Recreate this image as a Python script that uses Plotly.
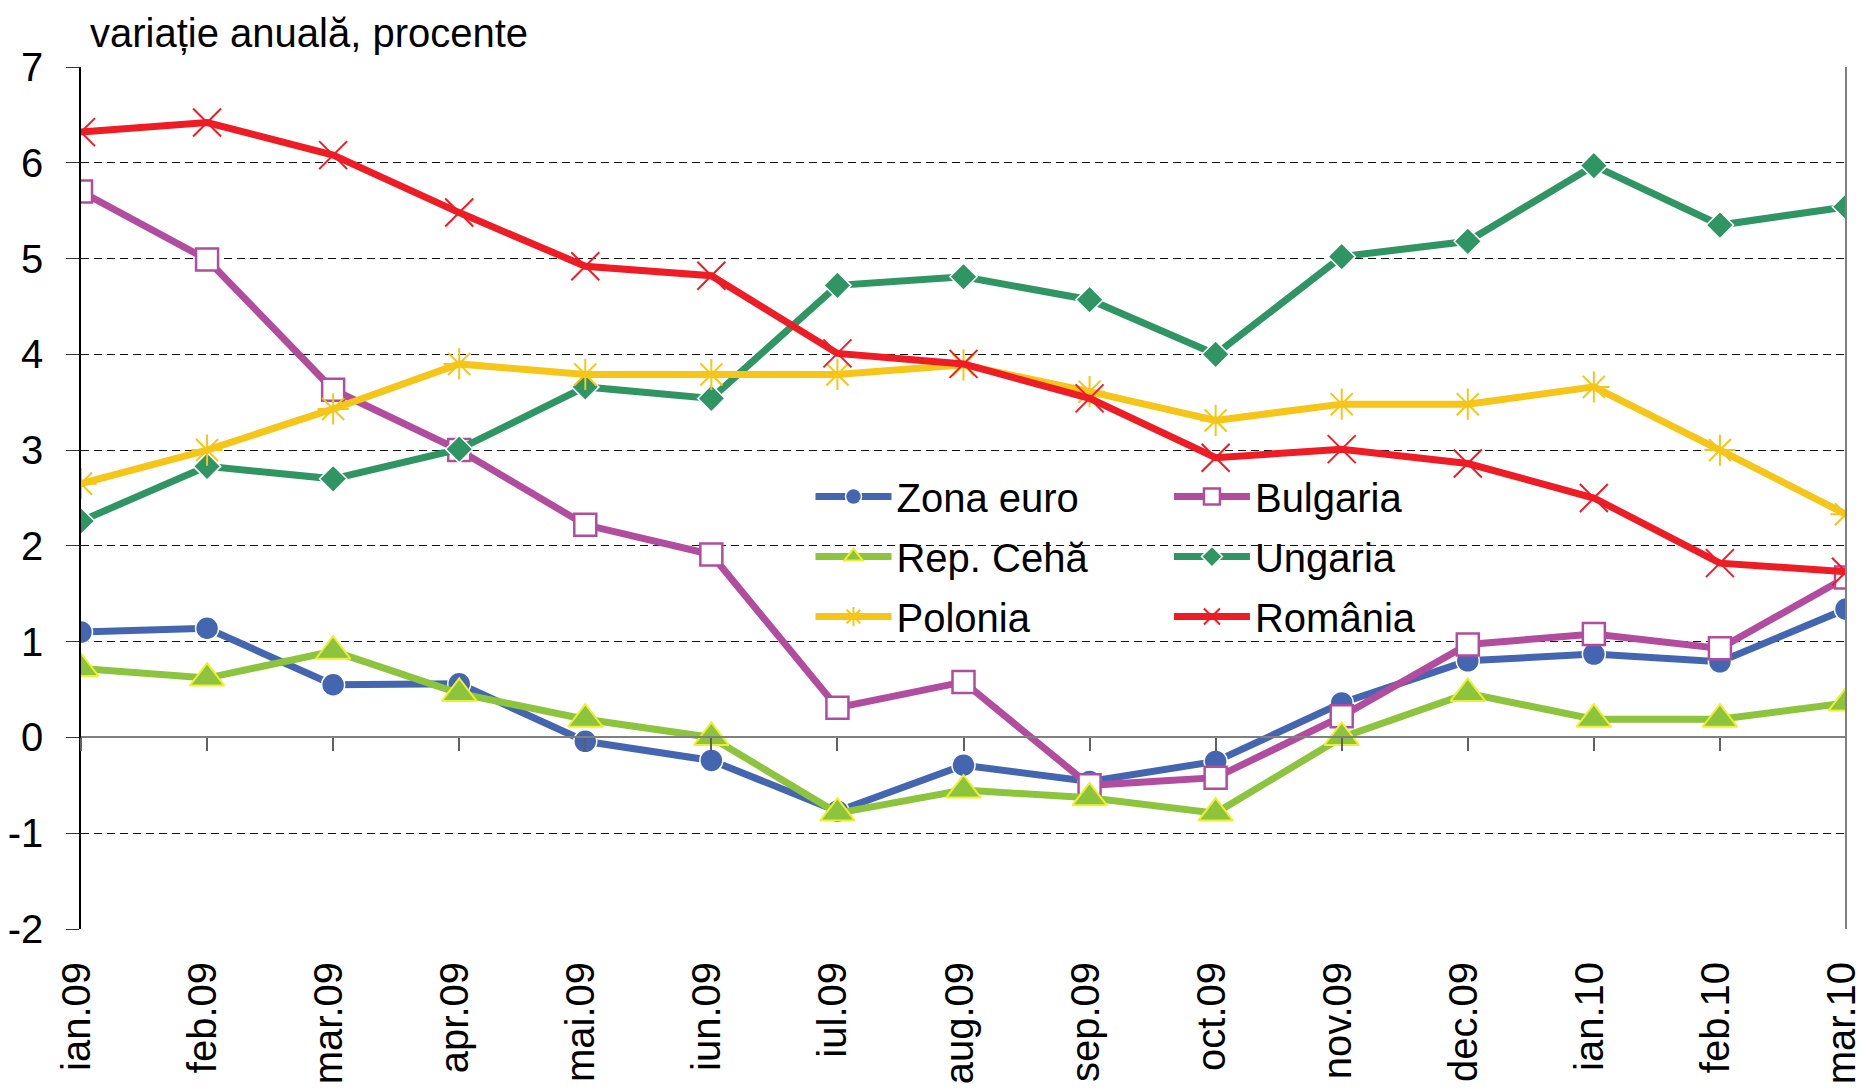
import plotly.graph_objects as go

months = ["ian.09", "feb.09", "mar.09", "apr.09", "mai.09", "iun.09", "iul.09", "aug.09",
          "sep.09", "oct.09", "nov.09", "dec.09", "ian.10", "feb.10", "mar.10"]

zona_euro = [1.10, 1.14, 0.55, 0.56, -0.04, -0.24, -0.77, -0.29, -0.46, -0.25, 0.36, 0.80, 0.87, 0.79, 1.34]
bulgaria = [5.70, 4.99, 3.63, 3.00, 2.22, 1.91, 0.31, 0.58, -0.50, -0.42, 0.22, 0.97, 1.08, 0.93, 1.67]
rep_ceha = [0.72, 0.62, 0.90, 0.46, 0.19, 0.00, -0.79, -0.55, -0.63, -0.79, 0.00, 0.46, 0.19, 0.19, 0.36]
ungaria = [2.26, 2.83, 2.70, 3.01, 3.66, 3.54, 4.72, 4.81, 4.57, 4.00, 5.02, 5.18, 5.97, 5.35, 5.54]
polonia = [2.65, 3.00, 3.43, 3.90, 3.79, 3.79, 3.79, 3.89, 3.61, 3.31, 3.48, 3.48, 3.66, 3.00, 2.33]
romania = [6.32, 6.42, 6.08, 5.48, 4.92, 4.82, 4.01, 3.90, 3.54, 2.92, 3.01, 2.86, 2.50, 1.82, 1.73]

y_ticks = [-2, -1, 0, 1, 2, 3, 4, 5, 6, 7]
y_title = "variație anuală, procente"
FONT = "Liberation Sans, Arial, sans-serif"

fig = go.Figure()

series = [
    dict(name="Zona euro", y=zona_euro, color="#4466B0", legend="legend",
         marker=dict(symbol="circle", size=23, color="#4466B0", line=dict(color="white", width=1.5))),
    dict(name="Bulgaria", y=bulgaria, color="#B24C9E", legend="legend2",
         marker=dict(symbol="square", size=22, color="white", line=dict(color="#B24C9E", width=2.5))),
    dict(name="Rep. Cehă", y=rep_ceha, color="#8DC43D", legend="legend",
         marker=dict(symbol="triangle-up", size=30, color="#8DC43D", line=dict(color="#F0EE30", width=2))),
    dict(name="Ungaria", y=ungaria, color="#2E9563", legend="legend2",
         marker=dict(symbol="diamond", size=21, color="#2E9563", line=dict(color="white", width=1.5))),
    dict(name="Polonia", y=polonia, color="#F5C518", legend="legend",
         marker=dict(symbol="asterisk-open", size=26, color="#F5C518", line=dict(color="#F5C518", width=2))),
    dict(name="România", y=romania, color="#EE1C24", legend="legend2",
         marker=dict(symbol="x-thin-open", size=28, color="#EE1C24", line=dict(color="#EE1C24", width=2))),
]

for s in series:
    fig.add_trace(go.Scatter(
        x=months, y=s["y"], name=s["name"], mode="lines+markers",
        line=dict(color=s["color"], width=7),
        marker=s["marker"], legend=s["legend"], legendgroup=s["name"],
    ))

# helper trace carrying the category tick marks of the axis drawn at zero
fig.add_trace(go.Scatter(x=months, y=zona_euro, xaxis="x2", mode="lines",
                         line=dict(width=0), opacity=0, showlegend=False, hoverinfo="skip"))

fig.update_layout(
    width=1856, height=1083,
    margin=dict(l=73, r=18, t=59, b=162, autoexpand=False),
    paper_bgcolor="white", plot_bgcolor="white",
    font=dict(family=FONT, size=40, color="black"),
    showlegend=True,
    xaxis=dict(type="category", range=[0, len(months) - 1], showgrid=False, showline=False,
               ticks="", tickangle=-90, tickfont=dict(size=40), ticklabelstandoff=24,
               ticklabelshift=-4, zeroline=False, automargin=False),
    xaxis2=dict(type="category", overlaying="x", anchor="free", position=2 / 9,
                range=[0, len(months) - 1], showgrid=False, showline=True, linecolor="#808080",
                linewidth=2, ticks="outside", ticklen=13, tickwidth=1.5, tickcolor="#606060",
                showticklabels=False, side="bottom", automargin=False),
    yaxis=dict(range=[-2, 7], tickvals=y_ticks, ticktext=[str(v) for v in y_ticks],
               showgrid=True, gridcolor="#111111",
               gridwidth=1, griddash="8px,5px", zeroline=False, showline=True,
               linecolor="black", linewidth=1.5, ticks="outside", ticklen=13,
               tickcolor="#333333", tickwidth=1, tickfont=dict(size=40),
               ticklabelstandoff=15, automargin=False),
    legend=dict(x=0.4133, y=0.5394, xanchor="left", yanchor="top", bgcolor="rgba(0,0,0,0)",
                font=dict(size=40), itemwidth=76, tracegroupgap=5, traceorder="grouped"),
    legend2=dict(x=0.6164, y=0.5394, xanchor="left", yanchor="top", bgcolor="rgba(0,0,0,0)",
                 font=dict(size=40), itemwidth=76, tracegroupgap=5, traceorder="grouped"),
    annotations=[dict(text=y_title, xref="paper", yref="paper", x=0.004, y=1,
                      xanchor="left", yanchor="bottom", yshift=10, showarrow=False,
                      font=dict(size=40, family=FONT))],
    shapes=[dict(type="line", xref="x domain", yref="y domain", x0=1, x1=1, y0=0, y1=1,
                 line=dict(color="#808080", width=2))],
)

fig.write_html("out.html")
